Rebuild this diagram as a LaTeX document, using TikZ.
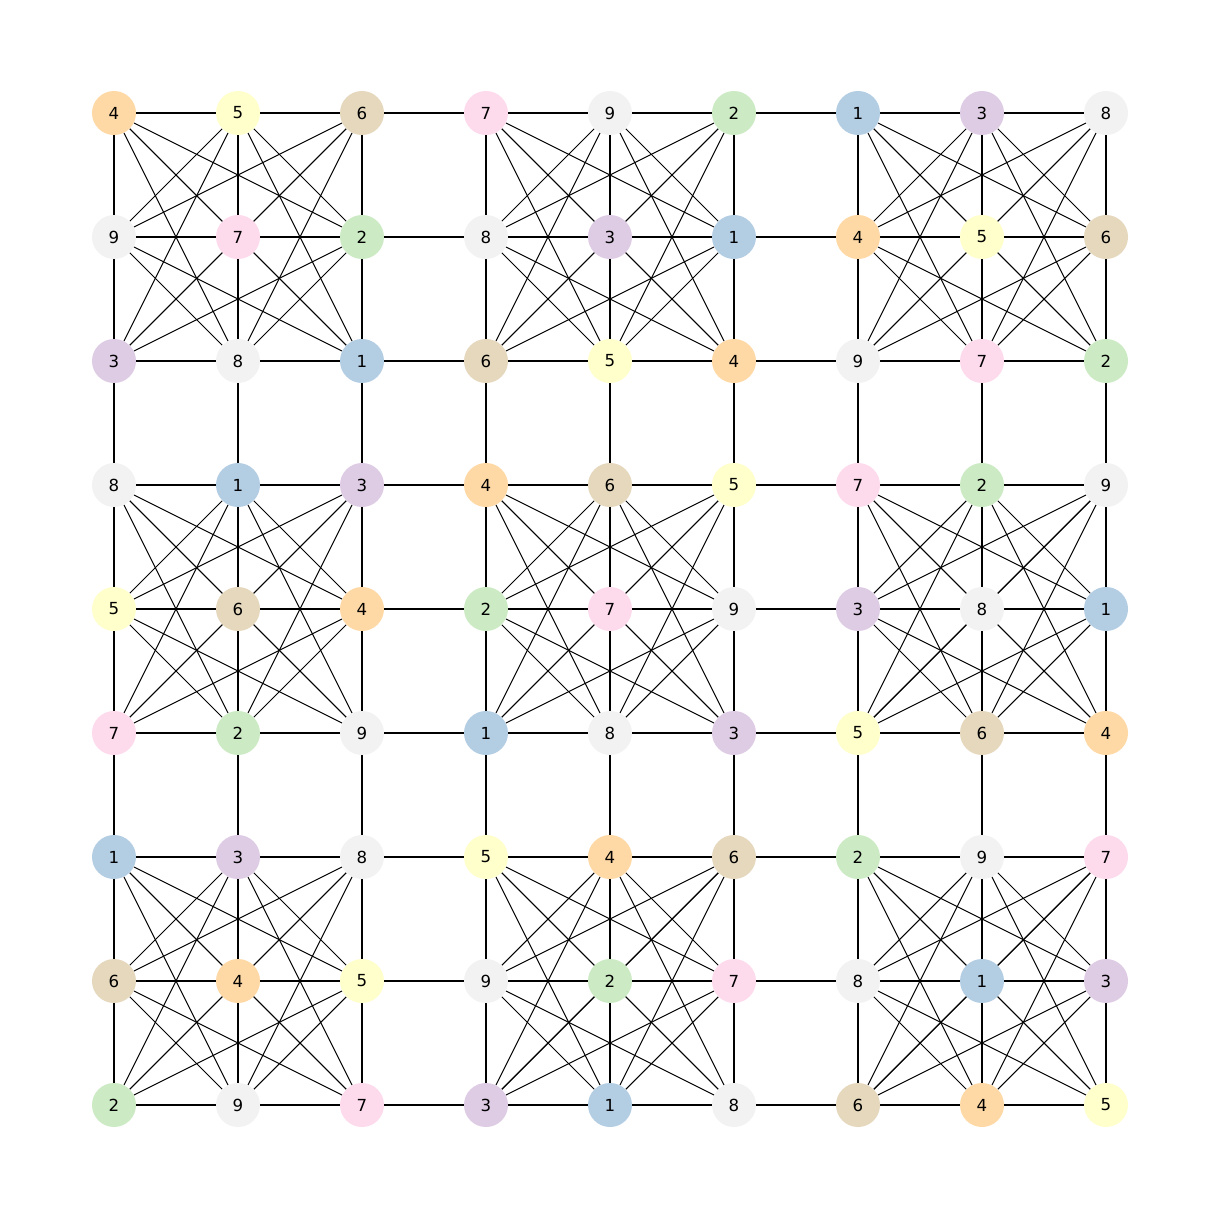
\documentclass[tikz,border=0pt]{standalone}
\usepackage{fontspec}
\setmainfont{DejaVu Sans}
\usepackage{xcolor}
\usepackage{tikz}
\usetikzlibrary{backgrounds}

% one pastel colour per digit
\definecolor{digit1}{HTML}{B3CDE3}
\definecolor{digit2}{HTML}{CCEBC5}
\definecolor{digit3}{HTML}{DECBE4}
\definecolor{digit4}{HTML}{FED9A6}
\definecolor{digit5}{HTML}{FFFFCC}
\definecolor{digit6}{HTML}{E5D8BD}
\definecolor{digit7}{HTML}{FDDAEC}
\definecolor{digit8}{HTML}{F2F2F2}
\definecolor{digit9}{HTML}{F2F2F2}

\tikzset{
    cell/.style={circle, minimum size=0.44in, inner sep=0pt,
        font=\fontsize{12pt}{14pt}\selectfont},
    gridline/.style={draw=black, line width=1.9pt},
    boxline/.style={draw=black, line width=0.75pt}
}

\begin{document}
\begin{tikzpicture}[x=0.01in, y=-0.01in]
    \useasboundingbox (0,0) rectangle (1220,1220);

    % Cells of the solved grid
    \foreach \digits [count=\r from 0] in {
        {4,5,6,7,9,2,1,3,8},
        {9,7,2,8,3,1,4,5,6},
        {3,8,1,6,5,4,9,7,2},
        {8,1,3,4,6,5,7,2,9},
        {5,6,4,2,7,9,3,8,1},
        {7,2,9,1,8,3,5,6,4},
        {1,3,8,5,4,6,2,9,7},
        {6,4,5,9,2,7,8,1,3},
        {2,9,7,3,1,8,6,4,5}} {
        \foreach \v [count=\c from 0] in \digits {
            \node[cell, fill=digit\v] (n-\r-\c) at ({114+124*\c}, {113+124*\r}) {\v};
        }
    }

    \begin{scope}[on background layer]
        % Rows and columns
        \foreach \r in {0,...,8} {
            \foreach \c in {0,...,7} {
                \pgfmathtruncatemacro\d{\c+1}
                \draw[gridline] (n-\r-\c) -- (n-\r-\d);
                \draw[gridline] (n-\c-\r) -- (n-\d-\r);
            }
        }

        % Crossings inside each 3x3 box
        \foreach \br in {0,1,2} {
            \foreach \bc in {0,1,2} {
                \foreach \a in {0,1} {
                    \foreach \p in {1,2} {
                        \ifnum\p>\a
                        \foreach \b in {0,1,2} {
                            \foreach \q in {0,1,2} {
                                \ifnum\q=\b\else
                                \pgfmathtruncatemacro\ra{3*\br+\a}
                                \pgfmathtruncatemacro\rp{3*\br+\p}
                                \pgfmathtruncatemacro\cb{3*\bc+\b}
                                \pgfmathtruncatemacro\cq{3*\bc+\q}
                                \draw[boxline] (n-\ra-\cb) -- (n-\rp-\cq);
                                \fi
                            }
                        }
                        \fi
                    }
                }
            }
        }
    \end{scope}

\end{tikzpicture}
\end{document}
